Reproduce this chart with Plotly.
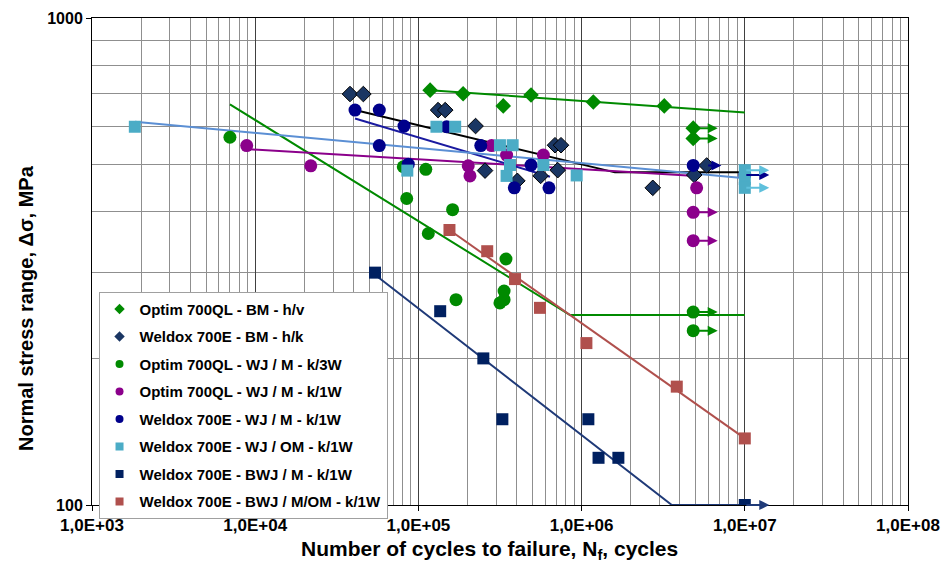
import plotly.graph_objects as go
import math

# ---------------- data ----------------
names = [
    "Optim 700QL - BM - h/v",
    "Weldox 700E - BM - h/k",
    "Optim 700QL - WJ / M - k/3W",
    "Optim 700QL - WJ / M - k/1W",
    "Weldox 700E - WJ / M - k/1W",
    "Weldox 700E - WJ / OM - k/1W",
    "Weldox 700E - BWJ / M - k/1W",
    "Weldox 700E - BWJ / M/OM - k/1W",
]

# failures
optim_bm_N = [1.18e5, 1.88e5, 3.31e5, 4.90e5, 1.18e6, 3.21e6]
optim_bm_S = [711, 699, 660, 695, 672, 660]
weldox_bm_N = [3.81e4, 4.60e4, 1.32e5, 1.46e5, 2.24e5, 2.56e5, 4.04e5, 5.61e5,
               6.87e5, 7.48e5, 7.14e5, 2.73e6, 4.9e6]
weldox_bm_S = [698, 698, 647, 647, 600, 486, 463, 474, 548, 548, 487, 448, 476]
optim_3w_N = [7.0e3, 8.48e4, 8.08e4, 1.11e5, 1.62e5, 1.15e5, 3.44e5, 1.70e5,
              3.35e5, 3.35e5, 3.16e5]
optim_3w_S = [569, 426, 495, 489, 404, 361, 320, 264, 275, 264, 260]
optim_1w_N = [8.87e3, 2.19e4, 2.02e5, 2.07e5, 2.81e5, 3.47e5, 5.83e5, 5.07e6]
optim_1w_S = [547, 497, 497, 474, 547, 523, 523, 448]
weldox_m_N = [4.09e4, 5.76e4, 5.76e4, 8.16e4, 8.67e4, 1.49e5, 2.41e5, 3.87e5,
              4.90e5, 6.31e5, 4.83e6]
weldox_m_S = [647, 647, 547, 600, 501, 598, 547, 448, 499, 448, 498]
weldox_om_N = [1.83e3, 1.29e5, 1.68e5, 8.55e4, 3.16e5, 3.78e5, 3.64e5, 3.47e5,
               5.83e5, 9.33e5, 1e7]
weldox_om_S = [598, 598, 598, 486, 548, 548, 499, 474, 499, 475, 467]
bwj_m_N = [5.42e4, 1.36e5, 2.50e5, 3.27e5, 1.10e6, 1.27e6, 1.68e6]
bwj_m_S = [300, 250, 200, 150, 150, 125, 125]
bwj_mom_N = [1.55e5, 2.64e5, 3.91e5, 5.56e5, 1.07e6, 3.83e6, 1e7]
bwj_mom_S = [367, 332, 291, 254, 215, 175, 137]

# run-outs (no failure)
optim_bm_run_N = [4.83e6, 4.83e6]
optim_bm_run_S = [594, 566]
weldox_bm_run_N = [5.84e6]
weldox_bm_run_S = [498]
optim_3w_run_N = [4.83e6, 4.83e6]
optim_3w_run_S = [249, 228]
optim_1w_run_N = [4.83e6, 4.83e6]
optim_1w_run_S = [399, 349]
weldox_m_run_N = [1e7]
weldox_m_run_S = [476]
weldox_om_run_N = [1e7, 1e7]
weldox_om_run_S = [487, 448]
bwj_m_run_N = [1e7]
bwj_m_run_S = [100]

# fitted S-N curves
fit_optim_bm_N = [1.18e5, 1e7]
fit_optim_bm_S = [711, 640]
fit_weldox_bm_N = [4.09e4, 1.6e6, 1e7]
fit_weldox_bm_S = [647, 482, 482]
fit_optim_3w_N = [7.0e3, 8.49e5, 1e7]
fit_optim_3w_S = [665, 245.5, 245.5]
fit_optim_1w_N = [8.87e3, 5.0e6]
fit_optim_1w_S = [538, 474]
fit_weldox_m_N = [4.09e4, 6.4e5]
fit_weldox_m_S = [622, 472]
fit_weldox_om_N = [1.83e3, 1e7]
fit_weldox_om_S = [612, 469]
fit_bwj_m_N = [5.42e4, 3.57e6, 1e7]
fit_bwj_m_S = [297, 100, 100]
fit_bwj_mom_N = [1.55e5, 1e7]
fit_bwj_mom_S = [367, 137]

x_ticks = [1e3, 1e4, 1e5, 1e6, 1e7, 1e8]
x_ticktext = ["1,0E+03", "1,0E+04", "1,0E+05", "1,0E+06", "1,0E+07", "1,0E+08"]
y_ticks = [100, 1000]
y_ticktext = ["100", "1000"]
x_title = "Number of cycles to failure, N<sub>f</sub>, cycles"
y_title = "Normal stress range, Δσ, MPa"

# ---------------- styles ----------------
GREEN = "#008a00"
NAVYD = "#1a3663"
PURPLE = "#8b008b"
NAVY = "#00008b"
CYAN = "#4bacc6"
DNAVY = "#002060"
BROWN = "#b0504d"

fig = go.Figure()

fits = [
    (fit_optim_bm_N, fit_optim_bm_S, GREEN),
    (fit_weldox_bm_N, fit_weldox_bm_S, "#000000"),
    (fit_optim_3w_N, fit_optim_3w_S, GREEN),
    (fit_optim_1w_N, fit_optim_1w_S, PURPLE),
    (fit_weldox_m_N, fit_weldox_m_S, "#1a1aa0"),
    (fit_weldox_om_N, fit_weldox_om_S, "#5b8fd4"),
    (fit_bwj_m_N, fit_bwj_m_S, "#1f3a78"),
    (fit_bwj_mom_N, fit_bwj_mom_S, BROWN),
]
for n, s, c in fits:
    fig.add_trace(go.Scatter(x=n, y=s, mode="lines", line=dict(color=c, width=2),
                             showlegend=False, hoverinfo="skip"))

series = [
    (names[0], optim_bm_N + optim_bm_run_N, optim_bm_S + optim_bm_run_S, "diamond", GREEN, GREEN, 12),
    (names[1], weldox_bm_N + weldox_bm_run_N, weldox_bm_S + weldox_bm_run_S, "diamond", NAVYD, "#000000", 12),
    (names[2], optim_3w_N + optim_3w_run_N, optim_3w_S + optim_3w_run_S, "circle", GREEN, GREEN, 13),
    (names[3], optim_1w_N + optim_1w_run_N, optim_1w_S + optim_1w_run_S, "circle", PURPLE, PURPLE, 13),
    (names[4], weldox_m_N + weldox_m_run_N, weldox_m_S + weldox_m_run_S, "circle", NAVY, NAVY, 13),
    (names[5], weldox_om_N + weldox_om_run_N, weldox_om_S + weldox_om_run_S, "square", CYAN, CYAN, 12),
    (names[6], bwj_m_N + bwj_m_run_N, bwj_m_S + bwj_m_run_S, "square", DNAVY, DNAVY, 12),
    (names[7], bwj_mom_N, bwj_mom_S, "square", BROWN, BROWN, 12),
]
for i, (nm, n, s, sym, fc, lc, sz) in enumerate(series):
    fig.add_trace(go.Scatter(
        x=n, y=s, mode="markers", name=nm, showlegend=False,
        marker=dict(symbol=sym, color=fc, size=sz, line=dict(color=lc, width=1 if lc != fc else 0)),
    ))
    # legend entry with small symbol
    fig.add_trace(go.Scatter(
        x=[None], y=[None], mode="markers", name=nm, legendgroup=str(i),
        marker=dict(symbol=sym, color=fc, size=8, line=dict(width=0)),
    ))

# run-out arrows
runs = [
    (optim_bm_run_N, optim_bm_run_S, GREEN, 0.15),
    (weldox_bm_run_N, weldox_bm_run_S, NAVY, 0.09),
    (optim_3w_run_N, optim_3w_run_S, GREEN, 0.15),
    (optim_1w_run_N, optim_1w_run_S, PURPLE, 0.15),
    (weldox_m_run_N, weldox_m_run_S, NAVY, 0.15),
    (weldox_om_run_N, weldox_om_run_S, "#5fc0dc", 0.15),
    (bwj_m_run_N, bwj_m_run_S, "#1f3a78", 0.15),
]
for n, s, c, L in runs:
    for nn, ss in zip(n, s):
        lx, ly = math.log10(nn), math.log10(ss)
        fig.add_annotation(x=lx + L, y=ly, ax=lx, ay=ly, xref="x", yref="y",
                           axref="x", ayref="y", showarrow=True, arrowhead=2,
                           arrowsize=1, arrowwidth=2, arrowcolor=c, text="", standoff=0)

# axis titles (placed as in the reference)
fig.add_annotation(text=x_title, xref="paper", yref="paper", x=0.4877, y=-0.0924,
                   xanchor="center", yanchor="middle", showarrow=False,
                   font=dict(size=21, weight="bold", color="#000000"))
fig.add_annotation(text=y_title, xref="paper", yref="paper", x=-0.0809, y=0.4045,
                   xanchor="center", yanchor="middle", showarrow=False, textangle=-90,
                   font=dict(size=20, weight="bold", color="#000000"))

font_family = "Liberation Sans, Arial, sans-serif"
fig.update_layout(
    width=942, height=563,
    margin=dict(l=92, r=34, t=18, b=58),
    paper_bgcolor="white", plot_bgcolor="white",
    font=dict(family=font_family, size=16, color="#000000", weight="bold"),
    showlegend=True,
    legend=dict(x=0.008, y=0.438, xanchor="left", yanchor="top",
                bgcolor="white", bordercolor="#a0a0a0", borderwidth=1,
                font=dict(size=15, weight="bold"), tracegroupgap=5,
                traceorder="grouped", itemwidth=30),
    xaxis=dict(type="log", range=[3, 8], tickvals=x_ticks, ticktext=x_ticktext,
               automargin=False,
               showgrid=True, gridcolor="#404040", gridwidth=1,
               minor=dict(dtick="D1", showgrid=True, gridcolor="#8f8f8f", gridwidth=1, ticks=""),
               showline=True, linecolor="#000000", linewidth=1, mirror=True,
               ticks="outside", ticklen=5, tickcolor="#000000",
               tickfont=dict(size=17, weight="bold")),
    yaxis=dict(type="log", range=[2, 3], tickvals=y_ticks, ticktext=y_ticktext,
               automargin=False,
               showgrid=True, gridcolor="#404040", gridwidth=1,
               minor=dict(dtick="D1", showgrid=True, gridcolor="#8f8f8f", gridwidth=1, ticks=""),
               showline=True, linecolor="#000000", linewidth=1, mirror=True,
               ticks="outside", ticklen=5, tickcolor="#000000",
               tickfont=dict(size=16, weight="bold")),
)

fig.write_html("out.html")
